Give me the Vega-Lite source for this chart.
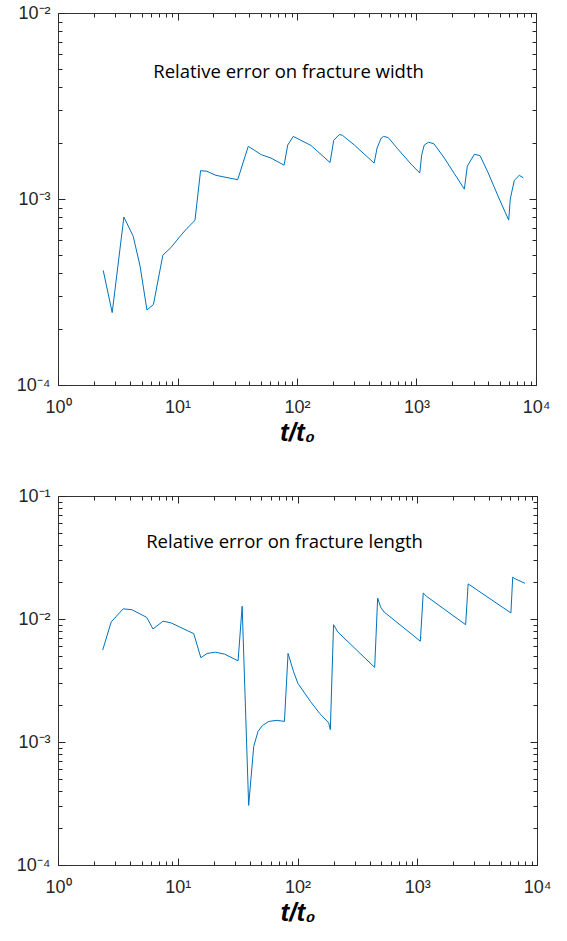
{
  "$schema": "https://vega.github.io/schema/vega-lite/v6.json",
  "background": "white",
  "padding": {"left": 15, "top": 3, "right": 5, "bottom": 5},
  "config": {
    "view": {"stroke": "#333333", "strokeWidth": 1},
    "axis": {
      "grid": false,
      "domain": false,
      "tickColor": "#262626",
      "tickWidth": 1,
      "labelFont": "Liberation Sans",
      "labelFontSize": 18,
      "labelColor": "#262626",
      "titleFont": "Liberation Sans",
      "titleColor": "#000000",
      "labelOverlap": false,
      "labelFlush": false
    }
  },
  "datasets": {
    "width": [
      {"t": 2.39, "e": 0.000413},
      {"t": 2.84, "e": 0.000245},
      {"t": 3.56, "e": 0.0008},
      {"t": 4.26, "e": 0.00063},
      {"t": 4.86, "e": 0.000436},
      {"t": 5.55, "e": 0.000253},
      {"t": 6.29, "e": 0.000271},
      {"t": 7.54, "e": 0.000499},
      {"t": 8.79, "e": 0.000547},
      {"t": 10.5, "e": 0.00063},
      {"t": 12.0, "e": 0.000695},
      {"t": 14.0, "e": 0.000767},
      {"t": 15.6, "e": 0.00142},
      {"t": 17.6, "e": 0.00141},
      {"t": 21.0, "e": 0.00134},
      {"t": 31.9, "e": 0.00127},
      {"t": 39.1, "e": 0.00192},
      {"t": 50.3, "e": 0.00173},
      {"t": 60.6, "e": 0.00166},
      {"t": 78.0, "e": 0.00152},
      {"t": 83.6, "e": 0.00195},
      {"t": 93.1, "e": 0.00217},
      {"t": 131, "e": 0.00194},
      {"t": 189, "e": 0.00157},
      {"t": 203, "e": 0.00207},
      {"t": 226, "e": 0.00222},
      {"t": 240, "e": 0.0022},
      {"t": 302, "e": 0.00195},
      {"t": 442, "e": 0.00156},
      {"t": 468, "e": 0.00188},
      {"t": 505, "e": 0.00212},
      {"t": 530, "e": 0.00217},
      {"t": 580, "e": 0.00214},
      {"t": 696, "e": 0.00186},
      {"t": 900, "e": 0.00154},
      {"t": 1065, "e": 0.00138},
      {"t": 1104, "e": 0.00172},
      {"t": 1161, "e": 0.00195},
      {"t": 1260, "e": 0.00202},
      {"t": 1400, "e": 0.00198},
      {"t": 1710, "e": 0.00166},
      {"t": 2072, "e": 0.00137},
      {"t": 2515, "e": 0.00113},
      {"t": 2661, "e": 0.0015},
      {"t": 3047, "e": 0.00174},
      {"t": 3400, "e": 0.00171},
      {"t": 3945, "e": 0.0014},
      {"t": 4932, "e": 0.001},
      {"t": 5910, "e": 0.00077},
      {"t": 6092, "e": 0.001},
      {"t": 6584, "e": 0.00126},
      {"t": 7250, "e": 0.00134},
      {"t": 7835, "e": 0.0013}
    ],
    "length": [
      {"t": 2.36, "e": 0.00558},
      {"t": 2.78, "e": 0.00946},
      {"t": 3.5, "e": 0.0121},
      {"t": 4.14, "e": 0.0119},
      {"t": 5.51, "e": 0.0103},
      {"t": 6.21, "e": 0.0083},
      {"t": 7.54, "e": 0.0096},
      {"t": 8.79, "e": 0.0093},
      {"t": 13.6, "e": 0.0076},
      {"t": 15.6, "e": 0.00484},
      {"t": 17.6, "e": 0.00525},
      {"t": 20.6, "e": 0.00537},
      {"t": 24.6, "e": 0.00518},
      {"t": 31.9, "e": 0.00457},
      {"t": 34.5, "e": 0.0127},
      {"t": 39.1, "e": 0.000305},
      {"t": 43.1, "e": 0.00092},
      {"t": 46.8, "e": 0.00122},
      {"t": 50.9, "e": 0.00136},
      {"t": 57.7, "e": 0.00147},
      {"t": 67.3, "e": 0.0015},
      {"t": 77.8, "e": 0.00147},
      {"t": 83.4, "e": 0.00525},
      {"t": 92.7, "e": 0.00373},
      {"t": 100.7, "e": 0.003},
      {"t": 128.5, "e": 0.00213},
      {"t": 153, "e": 0.00171},
      {"t": 182, "e": 0.00143},
      {"t": 188, "e": 0.00126},
      {"t": 200, "e": 0.00899},
      {"t": 217, "e": 0.00785},
      {"t": 441, "e": 0.00404},
      {"t": 467, "e": 0.0148},
      {"t": 494, "e": 0.0125},
      {"t": 529, "e": 0.0114},
      {"t": 1061, "e": 0.0066},
      {"t": 1122, "e": 0.0163},
      {"t": 1194, "e": 0.0153},
      {"t": 2535, "e": 0.00899},
      {"t": 2661, "e": 0.0193},
      {"t": 6056, "e": 0.0112},
      {"t": 6270, "e": 0.0219},
      {"t": 6577, "e": 0.0212},
      {"t": 7943, "e": 0.0195}
    ]
  },
  "spacing": 111,
  "bounds": "flush",
  "vconcat": [
    {
      "width": 478,
      "height": 372,
      "layer": [
        {
          "data": {"name": "width"},
          "mark": {"type": "line", "color": "#0072BD", "strokeWidth": 1},
          "encoding": {
            "x": {
              "field": "t", "type": "quantitative",
              "scale": {"type": "log", "domain": [1, 10000], "nice": false},
              "axis": {
                "orient": "bottom",
                "values": [1, 10, 100, 1000, 10000],
                "labelExpr": "'10' + replace(replace(replace(replace(replace(replace(''+round(log(datum.value)/LN10),'-','⁻'),'0','⁰'),'1','¹'),'2','²'),'3','³'),'4','⁴')",
                "ticks": false,
                "tickSize": 0,
                "labelPadding": 13,
                "title": "t/t₀",
                "titleFontSize": 26,
                "titleFontWeight": "bold",
                "titleFontStyle": "italic",
                "titlePadding": 3
              }
            },
            "y": {
              "field": "e", "type": "quantitative",
              "scale": {"type": "log", "domain": [0.0001, 0.01], "nice": false},
              "axis": {
                "orient": "left",
                "values": [0.0001, 0.001, 0.01],
                "labelExpr": "'10' + replace(replace(replace(replace(replace(replace(''+round(log(datum.value)/LN10),'-','⁻'),'0','⁰'),'1','¹'),'2','²'),'3','³'),'4','⁴')",
                "ticks": false,
                "tickSize": 0,
                "labelPadding": 8,
                "title": null
              }
            }
          }
        },
        {
          "data": {"name": "width"},
          "mark": {"type": "line", "opacity": 0},
          "encoding": {
            "x": {"field": "t", "type": "quantitative", "axis": {"orient": "bottom", "values": [1, 10, 100, 1000, 10000], "labels": false, "tickSize": 7, "offset": -7, "title": null}},
            "y": {"field": "e", "type": "quantitative", "axis": {"orient": "left", "values": [0.0001, 0.001, 0.01], "labels": false, "tickSize": 7, "offset": -7, "title": null}}
          }
        },
        {
          "data": {"name": "width"},
          "mark": {"type": "line", "opacity": 0},
          "encoding": {
            "x": {"field": "t", "type": "quantitative", "axis": {"orient": "bottom", "values": [2,3,4,5,6,7,8,9,20,30,40,50,60,70,80,90,200,300,400,500,600,700,800,900,2000,3000,4000,5000,6000,7000,8000,9000], "labels": false, "tickSize": 4, "offset": -4, "title": null}},
            "y": {"field": "e", "type": "quantitative", "axis": {"orient": "left", "values": [0.0002,0.0003,0.0004,0.0005,0.0006,0.0007,0.0008,0.0009,0.002,0.003,0.004,0.005,0.006,0.007,0.008,0.009], "labels": false, "tickSize": 4, "offset": -4, "title": null}}
          }
        },
        {
          "data": {"name": "width"},
          "mark": {"type": "line", "opacity": 0},
          "encoding": {
            "x": {"field": "t", "type": "quantitative", "axis": {"orient": "top", "values": [1, 10, 100, 1000, 10000], "labels": false, "tickSize": 7, "offset": -7, "title": null}},
            "y": {"field": "e", "type": "quantitative", "axis": {"orient": "right", "values": [0.0001, 0.001, 0.01], "labels": false, "tickSize": 7, "offset": -7, "title": null}}
          }
        },
        {
          "data": {"name": "width"},
          "mark": {"type": "line", "opacity": 0},
          "encoding": {
            "x": {"field": "t", "type": "quantitative", "axis": {"orient": "top", "values": [2,3,4,5,6,7,8,9,20,30,40,50,60,70,80,90,200,300,400,500,600,700,800,900,2000,3000,4000,5000,6000,7000,8000,9000], "labels": false, "tickSize": 4, "offset": -4, "title": null}},
            "y": {"field": "e", "type": "quantitative", "axis": {"orient": "right", "values": [0.0002,0.0003,0.0004,0.0005,0.0006,0.0007,0.0008,0.0009,0.002,0.003,0.004,0.005,0.006,0.007,0.008,0.009], "labels": false, "tickSize": 4, "offset": -4, "title": null}}
          }
        },
        {
          "data": {"values": [{"t": 85, "e": 0.0048, "label": "Relative error on fracture width"}]},
          "mark": {"type": "text", "font": "Open Sans", "fontSize": 18.5, "align": "center", "baseline": "middle", "color": "#000000"},
          "encoding": {
            "x": {"field": "t", "type": "quantitative", "axis": null},
            "y": {"field": "e", "type": "quantitative", "axis": null},
            "text": {"field": "label"}
          }
        }
      ],
      "resolve": {"axis": {"x": "independent", "y": "independent"}}
    },
    {
      "width": 479,
      "height": 369,
      "layer": [
        {
          "data": {"name": "length"},
          "mark": {"type": "line", "color": "#0072BD", "strokeWidth": 1},
          "encoding": {
            "x": {
              "field": "t", "type": "quantitative",
              "scale": {"type": "log", "domain": [1, 10000], "nice": false},
              "axis": {
                "orient": "bottom",
                "values": [1, 10, 100, 1000, 10000],
                "labelExpr": "'10' + replace(replace(replace(replace(replace(replace(''+round(log(datum.value)/LN10),'-','⁻'),'0','⁰'),'1','¹'),'2','²'),'3','³'),'4','⁴')",
                "ticks": false,
                "tickSize": 0,
                "labelPadding": 13,
                "title": "t/t₀",
                "titleFontSize": 26,
                "titleFontWeight": "bold",
                "titleFontStyle": "italic",
                "titlePadding": 3
              }
            },
            "y": {
              "field": "e", "type": "quantitative",
              "scale": {"type": "log", "domain": [0.0001, 0.1], "nice": false},
              "axis": {
                "orient": "left",
                "values": [0.0001, 0.001, 0.01, 0.1],
                "labelExpr": "'10' + replace(replace(replace(replace(replace(replace(''+round(log(datum.value)/LN10),'-','⁻'),'0','⁰'),'1','¹'),'2','²'),'3','³'),'4','⁴')",
                "ticks": false,
                "tickSize": 0,
                "labelPadding": 8,
                "title": null
              }
            }
          }
        },
        {
          "data": {"name": "length"},
          "mark": {"type": "line", "opacity": 0},
          "encoding": {
            "x": {"field": "t", "type": "quantitative", "axis": {"orient": "bottom", "values": [1, 10, 100, 1000, 10000], "labels": false, "tickSize": 7, "offset": -7, "title": null}},
            "y": {"field": "e", "type": "quantitative", "axis": {"orient": "left", "values": [0.0001, 0.001, 0.01, 0.1], "labels": false, "tickSize": 7, "offset": -7, "title": null}}
          }
        },
        {
          "data": {"name": "length"},
          "mark": {"type": "line", "opacity": 0},
          "encoding": {
            "x": {"field": "t", "type": "quantitative", "axis": {"orient": "bottom", "values": [2,3,4,5,6,7,8,9,20,30,40,50,60,70,80,90,200,300,400,500,600,700,800,900,2000,3000,4000,5000,6000,7000,8000,9000], "labels": false, "tickSize": 4, "offset": -4, "title": null}},
            "y": {"field": "e", "type": "quantitative", "axis": {"orient": "left", "values": [0.0002,0.0003,0.0004,0.0005,0.0006,0.0007,0.0008,0.0009,0.002,0.003,0.004,0.005,0.006,0.007,0.008,0.009,0.02,0.03,0.04,0.05,0.06,0.07,0.08,0.09], "labels": false, "tickSize": 4, "offset": -4, "title": null}}
          }
        },
        {
          "data": {"name": "length"},
          "mark": {"type": "line", "opacity": 0},
          "encoding": {
            "x": {"field": "t", "type": "quantitative", "axis": {"orient": "top", "values": [1, 10, 100, 1000, 10000], "labels": false, "tickSize": 7, "offset": -7, "title": null}},
            "y": {"field": "e", "type": "quantitative", "axis": {"orient": "right", "values": [0.0001, 0.001, 0.01, 0.1], "labels": false, "tickSize": 7, "offset": -7, "title": null}}
          }
        },
        {
          "data": {"name": "length"},
          "mark": {"type": "line", "opacity": 0},
          "encoding": {
            "x": {"field": "t", "type": "quantitative", "axis": {"orient": "top", "values": [2,3,4,5,6,7,8,9,20,30,40,50,60,70,80,90,200,300,400,500,600,700,800,900,2000,3000,4000,5000,6000,7000,8000,9000], "labels": false, "tickSize": 4, "offset": -4, "title": null}},
            "y": {"field": "e", "type": "quantitative", "axis": {"orient": "right", "values": [0.0002,0.0003,0.0004,0.0005,0.0006,0.0007,0.0008,0.0009,0.002,0.003,0.004,0.005,0.006,0.007,0.008,0.009,0.02,0.03,0.04,0.05,0.06,0.07,0.08,0.09], "labels": false, "tickSize": 4, "offset": -4, "title": null}}
          }
        },
        {
          "data": {"values": [{"t": 78, "e": 0.0423, "label": "Relative error on fracture length"}]},
          "mark": {"type": "text", "font": "Open Sans", "fontSize": 18.5, "align": "center", "baseline": "middle", "color": "#000000"},
          "encoding": {
            "x": {"field": "t", "type": "quantitative", "axis": null},
            "y": {"field": "e", "type": "quantitative", "axis": null},
            "text": {"field": "label"}
          }
        }
      ],
      "resolve": {"axis": {"x": "independent", "y": "independent"}}
    }
  ]
}
